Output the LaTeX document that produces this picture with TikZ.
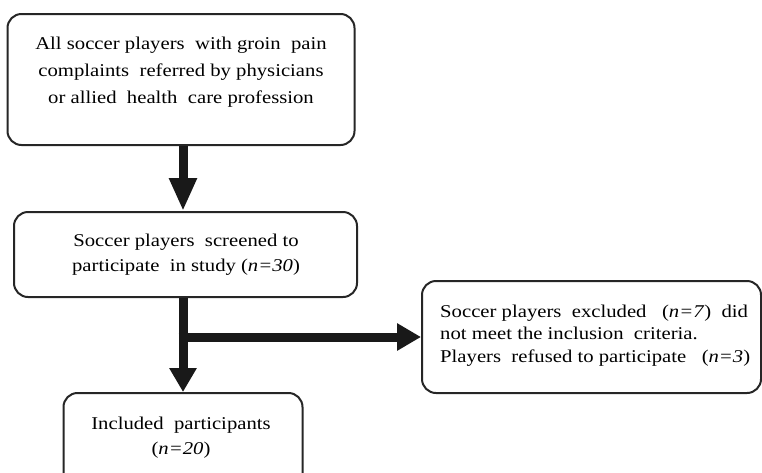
\documentclass[tikz,border=0pt]{standalone}
\usepackage{fontspec}
\setmainfont[FakeStretch=1.15]{Liberation Serif}
\usetikzlibrary{arrows.meta}
\begin{document}
\begin{tikzpicture}[x=1pt,y=-1pt,
  box/.style={draw=black!85, line width=2pt, rounded corners=14pt, fill=white},
  txt/.style={align=center, inner sep=0pt, font=\fontsize{18}{25}\selectfont},
  ltxt/.style={align=left, inner sep=0pt, font=\fontsize{18}{22.5}\selectfont},
  flow/.style={line width=9pt, draw=black!90},
  longhead/.style={-{Triangle[width=26pt,length=33pt]}},
  shorthead/.style={-{Triangle[width=26pt,length=24pt]}}
]
\useasboundingbox (0,0) rectangle (762,472);
\begin{scope}
\clip (0,0) rectangle (762,472);
\node[box, minimum width=347pt, minimum height=131pt] (b1) at (181,79.5) {};
\node[box, minimum width=343pt, minimum height=85pt] (b2) at (185.5,254.5) {};
\node[box, minimum width=339pt, minimum height=112pt] (b3) at (591.5,337) {};
\node[box, minimum width=239pt, minimum height=100pt] (b4) at (183,443) {};
\end{scope}
\node[txt, font=\fontsize{18}{27}\selectfont] (t1) at (181,72.5) {All soccer players\ \ with groin\ \ pain\\complaints\ \ referred by physicians\\or allied\ \ health\ \ care profession};
\node[txt] (t2) at (186,254.5) {Soccer players\ \ screened to\\participate\ \ in study (\textit{n=30})};
\node[ltxt, anchor=west] (t3) at (440,335.5) {Soccer players\ \ excluded\ \ \ (\textit{n=7})\ \ did\\not meet the inclusion\ \ criteria.\\Players\ \ refused to participate\ \ \ (\textit{n=3})};
\node[txt] (t4) at (181,437.5) {Included\ \ participants\\(\textit{n=20})};
\coordinate (br) at (b4.north |- b3.west);
\draw[flow, longhead] (b1.south -| b4.north) -- (b2.north -| b4.north);
\draw[flow, shorthead] (b2.south -| b4.north) -- (b4.north);
\draw[flow, shorthead] ([xshift=-4.5pt]br) -- (b3.west);
\end{tikzpicture}
\end{document}
